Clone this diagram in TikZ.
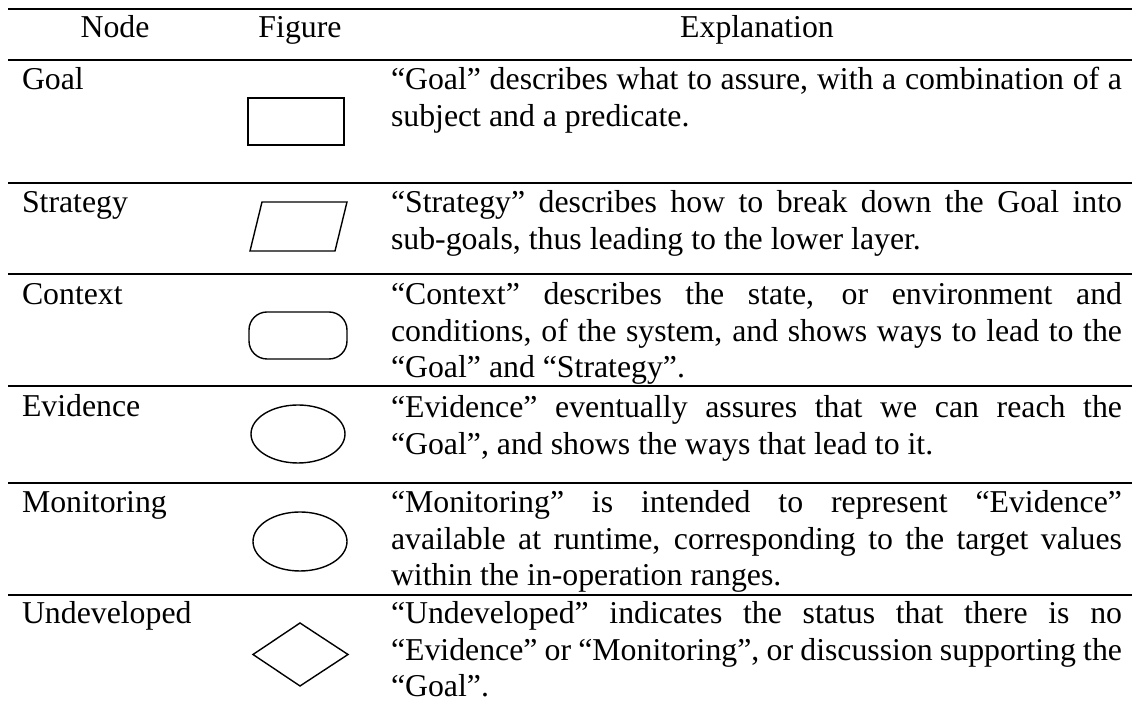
\documentclass[tikz,border=0pt]{standalone}
\usepackage{fontspec}
\setmainfont{Liberation Serif}
\begin{document}
\begin{tikzpicture}[x=0.5pt,y=-0.5pt,
  every node/.style={inner sep=0pt,outer sep=0pt,font=\fontsize{15.9pt}{18.25pt}\selectfont},
  rule/.style={line width=1pt},
  figline/.style={line width=0.7pt,line join=miter},
  head/.style={anchor=base},
  label/.style={anchor=base west},
  explain/.style={anchor=base west}]
\useasboundingbox (0,0) rectangle (1132,704);
\newcommand{\jline}[1]{\makebox[365.5pt][s]{#1}}

% horizontal rules of the table
\foreach \yy in {9,60,183,274,386,483,595}
  \draw[rule] (8,\yy) -- (1132,\yy);

% header row
\node[head] (hnode) at (115,38) {Node};
\node[head] (hfig) at (300,38) {Figure};
\node[head] (hexp) at (757,38) {Explanation};

% node names
\node[label] (lgoal) at (22,90) {Goal};
\node[label] (lstrat) at (22,213) {Strategy};
\node[label] (lctx) at (22,305) {Context};
\node[label] (levid) at (22,417) {Evidence};
\node[label] (lmon) at (22,513) {Monitoring};
\node[label] (lund) at (22,624) {Undeveloped};

% figures
\draw[figline] (248,98) rectangle (344,145);
\draw[figline] (262,202) -- (347,202) -- (335,251) -- (250,251) -- cycle;
\draw[figline,rounded corners=9pt] (249,312) rectangle (347,359);
\draw[figline] (298,434) ellipse [x radius=47, y radius=29];
\draw[figline] (300,541.5) ellipse [x radius=47, y radius=29.5];
\draw[figline] (253,654.5) -- (300,623) -- (348,654.5) -- (300,686) -- cycle;

% explanations
\node[explain] (eg1) at (391,90) {\jline{“Goal” describes what to assure, with a combination of a}};
\node[explain] (eg2) at (391,126.5) {subject and a predicate.};

\node[explain] (es1) at (391,213) {\jline{“Strategy” describes how to break down the Goal into}};
\node[explain] (es2) at (391,249.5) {sub-goals, thus leading to the lower layer.};

\node[explain] (ec1) at (391,305) {\jline{“Context” describes the state, or environment and}};
\node[explain] (ec2) at (391,341.5) {\jline{conditions, of the system, and shows ways to lead to the}};
\node[explain] (ec3) at (391,377.5) {“Goal” and “Strategy”.};

\node[explain] (ee1) at (391,418) {\jline{“Evidence” eventually assures that we can reach the}};
\node[explain] (ee2) at (391,454.5) {“Goal”, and shows the ways that lead to it.};

\node[explain] (em1) at (391,513) {\jline{“Monitoring” is intended to represent “Evidence”}};
\node[explain] (em2) at (391,549.5) {\jline{available at runtime, corresponding to the target values}};
\node[explain] (em3) at (391,586) {within the in-operation ranges.};

\node[explain] (eu1) at (391,624) {\jline{“Undeveloped” indicates the status that there is no}};
\node[explain] (eu2) at (391,660.5) {\jline{“Evidence” or “Monitoring”, or discussion supporting the}};
\node[explain] (eu3) at (391,697) {“Goal”.};
\end{tikzpicture}
\end{document}
